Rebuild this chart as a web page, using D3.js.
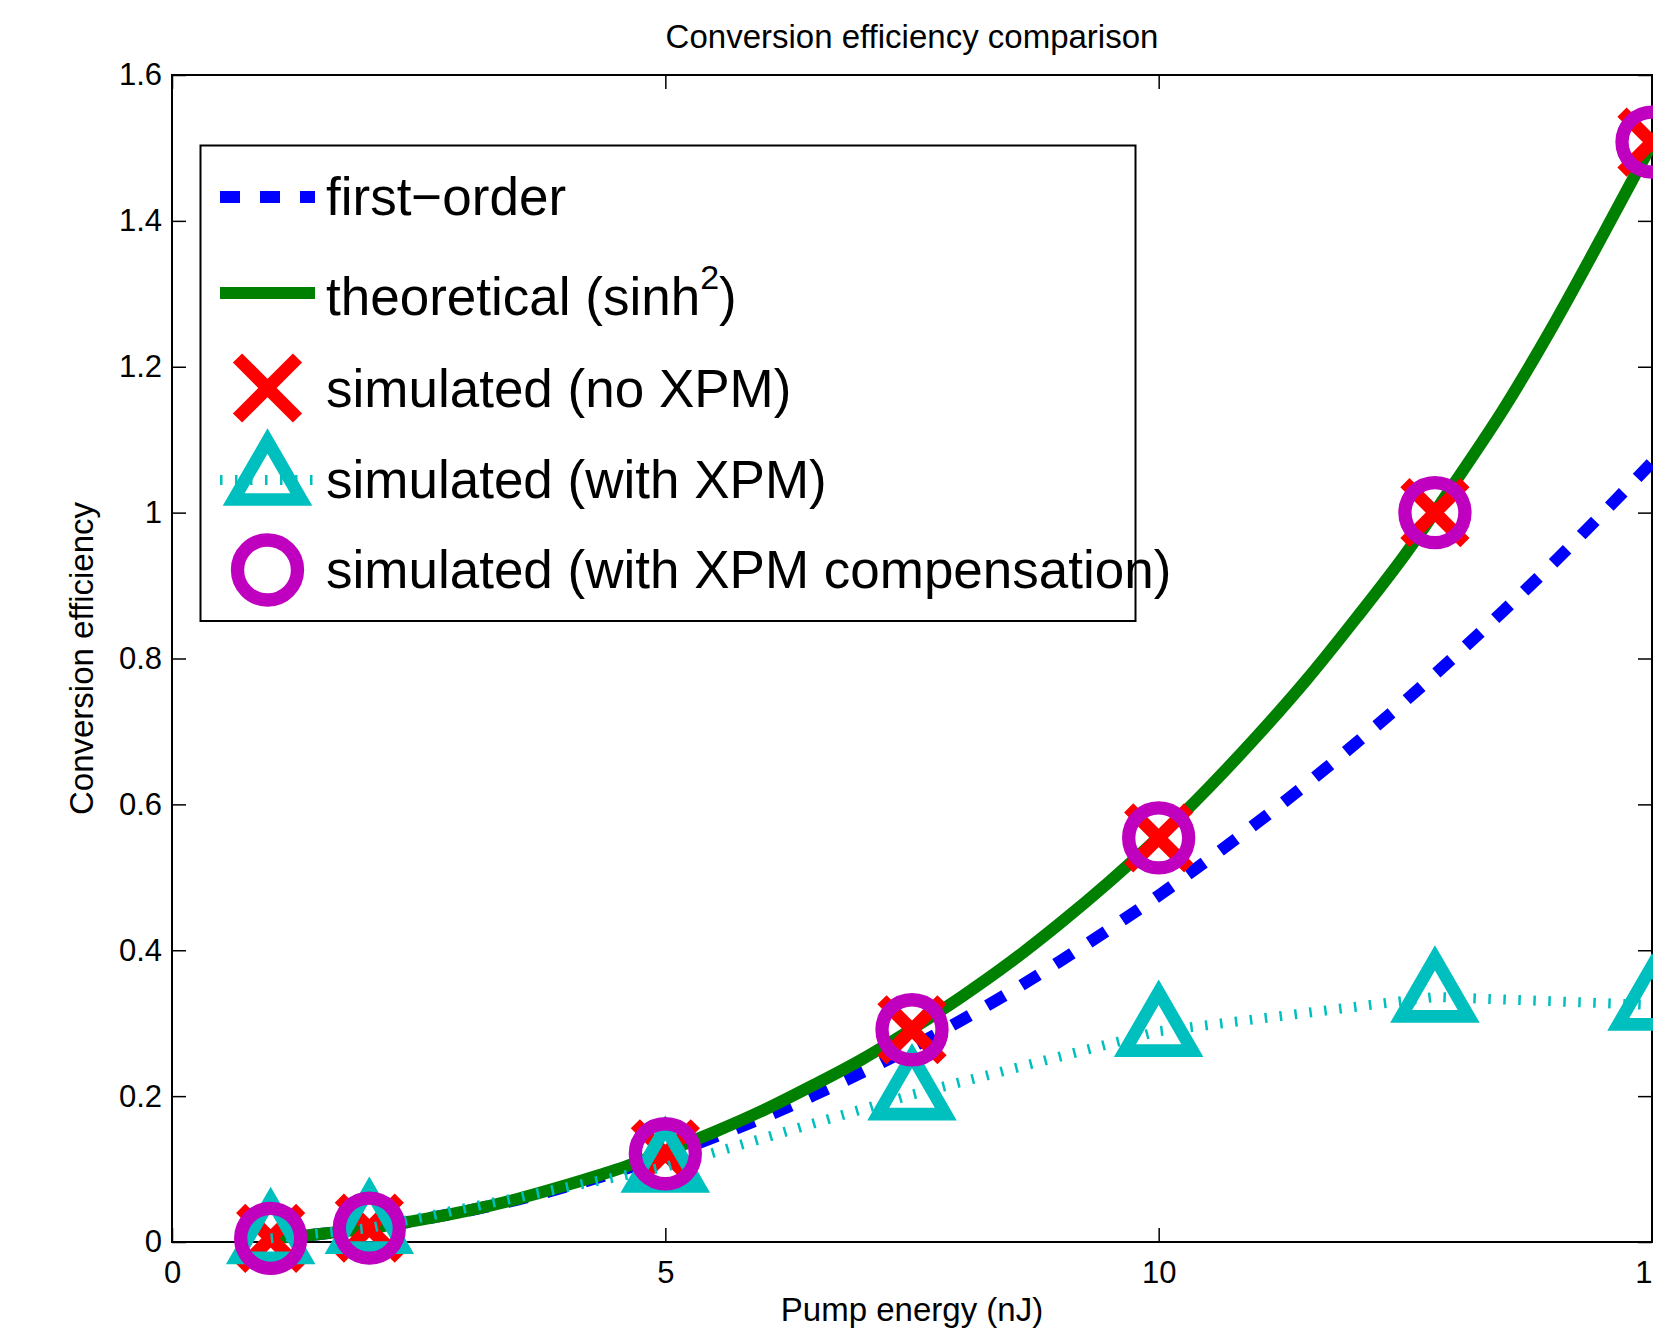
<!DOCTYPE html>
<html>
<head>
<meta charset="utf-8">
<script src="https://cdn.jsdelivr.net/npm/d3@7"></script>
<style>
  body { margin: 0; background: #fff; }
  text { font-family: "Liberation Sans", Arial, Helvetica, sans-serif; fill: #000; }
</style>
</head>
<body>
<div id="chart"></div>
<script>
// ---- data ----
// smooth curves, sampled every 0.5 nJ
var curveX = [1, 1.5, 2, 2.5, 3, 3.5, 4, 4.5, 5, 5.5, 6, 6.5, 7, 7.5, 8, 8.5, 9, 9.5, 10,
              10.5, 11, 11.5, 12, 12.5, 13, 13.5, 14, 14.5, 15];
var firstOrder = [0.005, 0.011, 0.019, 0.030, 0.043, 0.058, 0.076, 0.096, 0.119, 0.144, 0.171,
                  0.201, 0.233, 0.267, 0.304, 0.343, 0.385, 0.429, 0.475, 0.524, 0.575, 0.628,
                  0.684, 0.742, 0.803, 0.866, 0.931, 0.999, 1.069];
var theoretical = [0.005, 0.011, 0.019, 0.030, 0.043, 0.059, 0.078, 0.099, 0.124, 0.151, 0.181,
                   0.215, 0.251, 0.292, 0.336, 0.384, 0.437, 0.494, 0.555, 0.622, 0.694, 0.771,
                   0.855, 0.943, 1.041, 1.143, 1.257, 1.380, 1.506];

// simulated points
var simX = [1, 2, 5, 7.5, 10, 12.8, 15];
var simNoXPM = [0.005, 0.019, 0.121, 0.291, 0.554, 1.0, 1.508];
var simWithXPM = [0.005, 0.019, 0.103, 0.202, 0.289, 0.336, 0.325];
var simCompensated = [0.005, 0.019, 0.121, 0.291, 0.554, 1.0, 1.508];

var xTicks = [0, 5, 10, 15];
var yTicks = [0, 0.2, 0.4, 0.6, 0.8, 1, 1.2, 1.4, 1.6];
var legendLabels = ["first\u2212order", "theoretical (sinh", "simulated (no XPM)",
                    "simulated (with XPM)", "simulated (with XPM compensation)"];

// ---- layout ----
var W = 1653, H = 1334;
var plot = { left: 172, top: 75, right: 1652, bottom: 1242 };

var svg = d3.select("#chart").append("svg")
    .attr("width", W).attr("height", H)
    .style("display", "block");

svg.append("rect").attr("width", W).attr("height", H).attr("fill", "#fff");

var x = d3.scaleLinear().domain([0, 15]).range([plot.left, plot.right]);
var y = d3.scaleLinear().domain([0, 1.6]).range([plot.bottom, plot.top]);

// axes (ticks pointing inward like matlab)
function styleAxis(g) {
    g.select(".domain").remove();
    g.selectAll(".tick line").attr("stroke", "#000").attr("stroke-width", 1.5);
    g.selectAll(".tick text").style("font-size", "31px")
        .attr("font-family", null);
}

svg.append("g")
    .attr("transform", "translate(0," + plot.bottom + ")")
    .call(d3.axisBottom(x).tickValues(xTicks).tickSizeInner(-14).tickSizeOuter(0).tickPadding(19))
    .call(styleAxis);
svg.append("g")
    .attr("transform", "translate(0," + plot.top + ")")
    .call(d3.axisTop(x).tickValues(xTicks).tickSizeInner(-14).tickSizeOuter(0).tickFormat(""))
    .call(styleAxis);
svg.append("g")
    .attr("transform", "translate(" + plot.left + ",0)")
    .call(d3.axisLeft(y).tickValues(yTicks).tickSizeInner(-14).tickSizeOuter(0).tickPadding(10)
          .tickFormat(function(d) { return String(+d.toFixed(1)); }))
    .call(styleAxis);
svg.append("g")
    .attr("transform", "translate(" + plot.right + ",0)")
    .call(d3.axisRight(y).tickValues(yTicks).tickSizeInner(-14).tickSizeOuter(0).tickFormat(""))
    .call(styleAxis);

// box
svg.append("rect")
    .attr("x", plot.left).attr("y", plot.top)
    .attr("width", plot.right - plot.left).attr("height", plot.bottom - plot.top)
    .attr("fill", "none").attr("stroke", "#000").attr("stroke-width", 2);

// titles
svg.append("text")
    .attr("x", (plot.left + plot.right) / 2).attr("y", 48)
    .attr("text-anchor", "middle").style("font-size", "33px")
    .text("Conversion efficiency comparison");
svg.append("text")
    .attr("x", (plot.left + plot.right) / 2).attr("y", 1321)
    .attr("text-anchor", "middle").style("font-size", "33px")
    .text("Pump energy (nJ)");
svg.append("text")
    .attr("transform", "translate(93," + (plot.top + plot.bottom) / 2 + ") rotate(-90)")
    .attr("text-anchor", "middle").style("font-size", "33px")
    .text("Conversion efficiency");

// ---- markers ----
var colors = { blue: "#0000ff", green: "#008000", red: "#ff0000", cyan: "#00bfbf", magenta: "#bf00bf" };

function crossPath(s) {
    return "M" + (-s) + "," + (-s) + "L" + s + "," + s + "M" + (-s) + "," + s + "L" + s + "," + (-s);
}
function trianglePath(R) {
    var hw = R * Math.sqrt(3) / 2;
    return "M0," + (-R) + "L" + hw + "," + (R / 2) + "L" + (-hw) + "," + (R / 2) + "Z";
}

function drawCross(g) {
    g.append("path").attr("d", crossPath(30))
        .attr("fill", "none").attr("stroke", colors.red).attr("stroke-width", 13);
}
function drawTriangle(g) {
    g.append("path").attr("d", trianglePath(39))
        .attr("fill", "none").attr("stroke", colors.cyan).attr("stroke-width", 12.7)
        .attr("stroke-linejoin", "miter");
}
function drawCircle(g) {
    g.append("circle").attr("r", 30)
        .attr("fill", "none").attr("stroke", colors.magenta).attr("stroke-width", 13.3);
}

var line = d3.line()
    .x(function(d) { return x(d[0]); })
    .y(function(d) { return y(d[1]); });

// first-order (blue dashed)
svg.append("path")
    .datum(d3.zip(curveX, firstOrder))
    .attr("d", line.curve(d3.curveMonotoneX))
    .attr("fill", "none").attr("stroke", colors.blue)
    .attr("stroke-width", 12).attr("stroke-dasharray", "20,20");

// theoretical (green)
svg.append("path")
    .datum(d3.zip(curveX, theoretical))
    .attr("d", line.curve(d3.curveMonotoneX))
    .attr("fill", "none").attr("stroke", colors.green)
    .attr("stroke-width", 12);

// no XPM: red crosses
svg.selectAll(".m-noxpm")
    .data(d3.zip(simX, simNoXPM))
    .enter().append("g")
    .attr("class", "m-noxpm")
    .attr("transform", function(d) { return "translate(" + x(d[0]) + "," + y(d[1]) + ")"; })
    .each(function() { drawCross(d3.select(this)); });

// with XPM: dotted cyan line + triangles
svg.append("path")
    .datum(d3.zip(simX, simWithXPM))
    .attr("d", line.curve(d3.curveLinear))
    .attr("fill", "none").attr("stroke", colors.cyan)
    .attr("stroke-width", 10).attr("stroke-dasharray", "2.5,12.5");

svg.selectAll(".m-xpm")
    .data(d3.zip(simX, simWithXPM))
    .enter().append("g")
    .attr("class", "m-xpm")
    .attr("transform", function(d) { return "translate(" + x(d[0]) + "," + y(d[1]) + ")"; })
    .each(function() { drawTriangle(d3.select(this)); });

// compensated: magenta circles
svg.selectAll(".m-comp")
    .data(d3.zip(simX, simCompensated))
    .enter().append("g")
    .attr("class", "m-comp")
    .attr("transform", function(d) { return "translate(" + x(d[0]) + "," + y(d[1]) + ")"; })
    .each(function() { drawCircle(d3.select(this)); });

// ---- legend ----
var legend = svg.append("g");
legend.append("rect")
    .attr("x", 200.5).attr("y", 145.5).attr("width", 935).attr("height", 475.5)
    .attr("fill", "#fff").attr("stroke", "#000").attr("stroke-width", 2);

var rowY = [197, 293, 388, 480, 570];
var textY = [215, 315, 407, 498, 588];
var sx0 = 220, sx1 = 315, mx = 267.5, tx = 326;

// row 1: dashed blue
legend.append("line").attr("x1", sx0).attr("x2", sx1).attr("y1", rowY[0]).attr("y2", rowY[0])
    .attr("stroke", colors.blue).attr("stroke-width", 12).attr("stroke-dasharray", "20,20");
// row 2: solid green
legend.append("line").attr("x1", sx0).attr("x2", sx1).attr("y1", rowY[1]).attr("y2", rowY[1])
    .attr("stroke", colors.green).attr("stroke-width", 12);
// row 3: cross
drawCross(legend.append("g").attr("transform", "translate(" + mx + "," + rowY[2] + ")"));
// row 4: dotted + triangle
legend.append("line").attr("x1", sx0).attr("x2", sx1).attr("y1", rowY[3]).attr("y2", rowY[3])
    .attr("stroke", colors.cyan).attr("stroke-width", 10).attr("stroke-dasharray", "2.5,12.5");
drawTriangle(legend.append("g").attr("transform", "translate(" + mx + "," + rowY[3] + ")"));
// row 5: circle
drawCircle(legend.append("g").attr("transform", "translate(" + mx + "," + rowY[4] + ")"));

legendLabels.forEach(function(lbl, i) {
    var t = legend.append("text")
        .attr("x", tx).attr("y", textY[i])
        .style("font-size", "53px")
        .text(lbl);
    if (i === 1) {
        // superscript 2 then closing paren
        t.append("tspan").attr("dy", -26).style("font-size", "34px").text("2");
        t.append("tspan").attr("dy", 26).text(")");
    }
});
</script>
</body>
</html>
